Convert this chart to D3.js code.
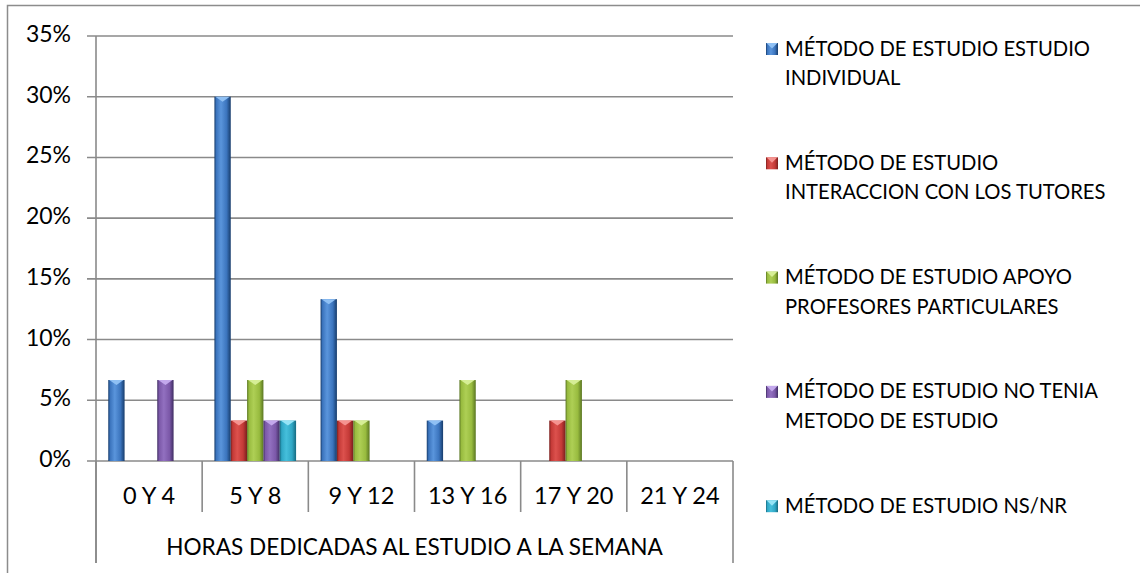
<!DOCTYPE html>
<html>
<head>
<meta charset="utf-8">
<script src="https://cdn.jsdelivr.net/npm/d3@7"></script>
<style>
  body { margin: 0; background: #fff; }
  text { font-family: Lato, "Open Sans", sans-serif; fill: #000; }
</style>
</head>
<body>
<script>
// categories (hours per week)
var categories = ['0 Y 4', '5 Y 8', '9 Y 12', '13 Y 16', '17 Y 20', '21 Y 24'];

// one array per series, share of students
var estudioIndividual = [0.0667, 0.30, 0.1333, 0.0333, 0, 0];
var interaccionTutores = [0, 0.0333, 0.0333, 0, 0.0333, 0];
var apoyoProfesores = [0, 0.0667, 0.0333, 0.0667, 0.0667, 0];
var noTeniaMetodo = [0.0667, 0.0333, 0, 0, 0, 0];
var nsNr = [0, 0.0333, 0, 0, 0, 0];

var legendLines = [
	['MÉTODO DE ESTUDIO ESTUDIO', 'INDIVIDUAL'],
	['MÉTODO DE ESTUDIO', 'INTERACCION CON LOS TUTORES'],
	['MÉTODO DE ESTUDIO APOYO', 'PROFESORES PARTICULARES'],
	['MÉTODO DE ESTUDIO NO TENIA', 'METODO DE ESTUDIO'],
	['MÉTODO DE ESTUDIO NS/NR']
];

var yTicks = [0, 0.05, 0.10, 0.15, 0.20, 0.25, 0.30, 0.35];
var axisTitle = 'HORAS DEDICADAS AL ESTUDIO A LA SEMANA';

var series = [
	{ key: 'ind', values: estudioIndividual, dark: '#173c6b', mid: '#3b74bd', light: '#5a95dc', top: '#8fc0f4' },
	{ key: 'tut', values: interaccionTutores, dark: '#7a1f1d', mid: '#c43a37', light: '#dc514d', top: '#f59390' },
	{ key: 'apo', values: apoyoProfesores, dark: '#5a7622', mid: '#98bb3f', light: '#aecf55', top: '#d6ee96' },
	{ key: 'no', values: noTeniaMetodo, dark: '#3f2d62', mid: '#7b58a8', light: '#9270c0', top: '#c3a8ec' },
	{ key: 'ns', values: nsNr, dark: '#166a80', mid: '#2fa7c5', light: '#45bfdb', top: '#95e4f6' }
];

var W = 1140, H = 573;
var plotLeft = 96, plotRight = 733, plotTop = 36, plotBase = 461;

var svg = d3.select('body').append('svg')
	.attr('width', W)
	.attr('height', H);

// outer frame of the chart
svg.append('rect')
	.attr('x', 7.5).attr('y', 5.5)
	.attr('width', W).attr('height', H)
	.attr('fill', 'none')
	.attr('stroke', '#8c8c8c')
	.attr('stroke-width', 1.5);

var defs = svg.append('defs');
series.forEach(function(s) {
	var g = defs.append('linearGradient')
		.attr('id', 'grad-' + s.key)
		.attr('x1', 0).attr('x2', 1).attr('y1', 0).attr('y2', 0);
	g.append('stop').attr('offset', '0%').attr('stop-color', s.dark);
	g.append('stop').attr('offset', '12%').attr('stop-color', s.mid);
	g.append('stop').attr('offset', '40%').attr('stop-color', s.light);
	g.append('stop').attr('offset', '75%').attr('stop-color', s.mid);
	g.append('stop').attr('offset', '100%').attr('stop-color', s.dark);
});

var x = d3.scaleBand()
	.domain(categories)
	.range([plotLeft, plotRight])
	.padding(0);

var xs = d3.scaleBand()
	.domain(series.map(function(s) { return s.key; }))
	.range([0, x.bandwidth()])
	.paddingInner(0)
	.paddingOuter(0.75);

var y = d3.scaleLinear()
	.domain([0, 0.35])
	.range([plotBase, plotTop]);

// gridlines
svg.append('g')
	.selectAll('line')
	.data(yTicks)
	.enter().append('line')
	.attr('x1', plotLeft - 9).attr('x2', plotRight)
	.attr('y1', function(d) { return y(d); })
	.attr('y2', function(d) { return y(d); })
	.attr('stroke', '#8a8a8a')
	.attr('stroke-width', 1.6);

// y axis line
svg.append('line')
	.attr('x1', plotLeft).attr('x2', plotLeft)
	.attr('y1', plotTop).attr('y2', 563)
	.attr('stroke', '#8a8a8a')
	.attr('stroke-width', 1.6);

// y labels
svg.append('g')
	.selectAll('text')
	.data(yTicks)
	.enter().append('text')
	.attr('x', 71)
	.attr('y', function(d) { return y(d) + 6; })
	.attr('text-anchor', 'end')
	.style('font-size', '23px')
	.text(d3.format('.0%'));

// category separators
var seps = categories.map(function(c) { return x(c); }).concat([plotRight]);
svg.append('g')
	.selectAll('line')
	.data(seps)
	.enter().append('line')
	.attr('x1', function(d) { return d; })
	.attr('x2', function(d) { return d; })
	.attr('y1', plotBase)
	.attr('y2', function(d, i) { return (i === 0 || i === seps.length - 1) ? 563 : 512; })
	.attr('stroke', '#8a8a8a')
	.attr('stroke-width', 1.6);

// category labels
svg.append('g')
	.selectAll('text')
	.data(categories)
	.enter().append('text')
	.attr('x', function(d) { return x(d) + x.bandwidth() / 2; })
	.attr('y', 504)
	.attr('text-anchor', 'middle')
	.style('font-size', '23.5px')
	.text(function(d) { return d; });

svg.append('text')
	.attr('x', (plotLeft + plotRight) / 2)
	.attr('y', 555)
	.attr('text-anchor', 'middle')
	.style('font-size', '22.6px')
	.text(axisTitle);

// bars
var bw = xs.bandwidth();
series.forEach(function(s) {
	var g = svg.append('g').attr('class', 'series-' + s.key);
	var pts = s.values.map(function(v, i) { return { v: v, c: categories[i] }; })
		.filter(function(d) { return d.v > 0; });
	g.selectAll('rect')
		.data(pts)
		.enter().append('rect')
		.attr('x', function(d) { return x(d.c) + xs(s.key); })
		.attr('y', function(d) { return y(d.v); })
		.attr('width', bw)
		.attr('height', function(d) { return plotBase - y(d.v); })
		.attr('fill', 'url(#grad-' + s.key + ')');
	// bevel on the top of every bar
	g.selectAll('path')
		.data(pts)
		.enter().append('path')
		.attr('d', function(d) {
			var x0 = x(d.c) + xs(s.key), y0 = y(d.v);
			return 'M' + (x0 + 1) + ',' + y0 + 'L' + (x0 + bw - 1) + ',' + y0 +
				'L' + (x0 + bw / 2) + ',' + (y0 + 5) + 'Z';
		})
		.attr('fill', s.top);
});

// legend
var legend = svg.append('g')
	.selectAll('g')
	.data(series)
	.enter().append('g')
	.attr('transform', function(d, i) { return 'translate(766,' + (48 + i * 114.3) + ')'; });

legend.append('rect')
	.attr('x', 0).attr('y', -5)
	.attr('width', 12).attr('height', 12)
	.attr('fill', function(d) { return 'url(#grad-' + d.key + ')'; });
legend.append('path')
	.attr('d', 'M0.5,-5L11.5,-5L6,0.5Z')
	.attr('fill', function(d) { return d.top; });

legend.each(function(d, i) {
	var t = d3.select(this).append('text')
		.attr('x', 19)
		.attr('y', 7.5)
		.style('font-size', '20.2px');
	legendLines[i].forEach(function(line, j) {
		t.append('tspan')
			.attr('x', 19)
			.attr('dy', j === 0 ? 0 : 29.5)
			.text(line);
	});
});
</script>
</body>
</html>
